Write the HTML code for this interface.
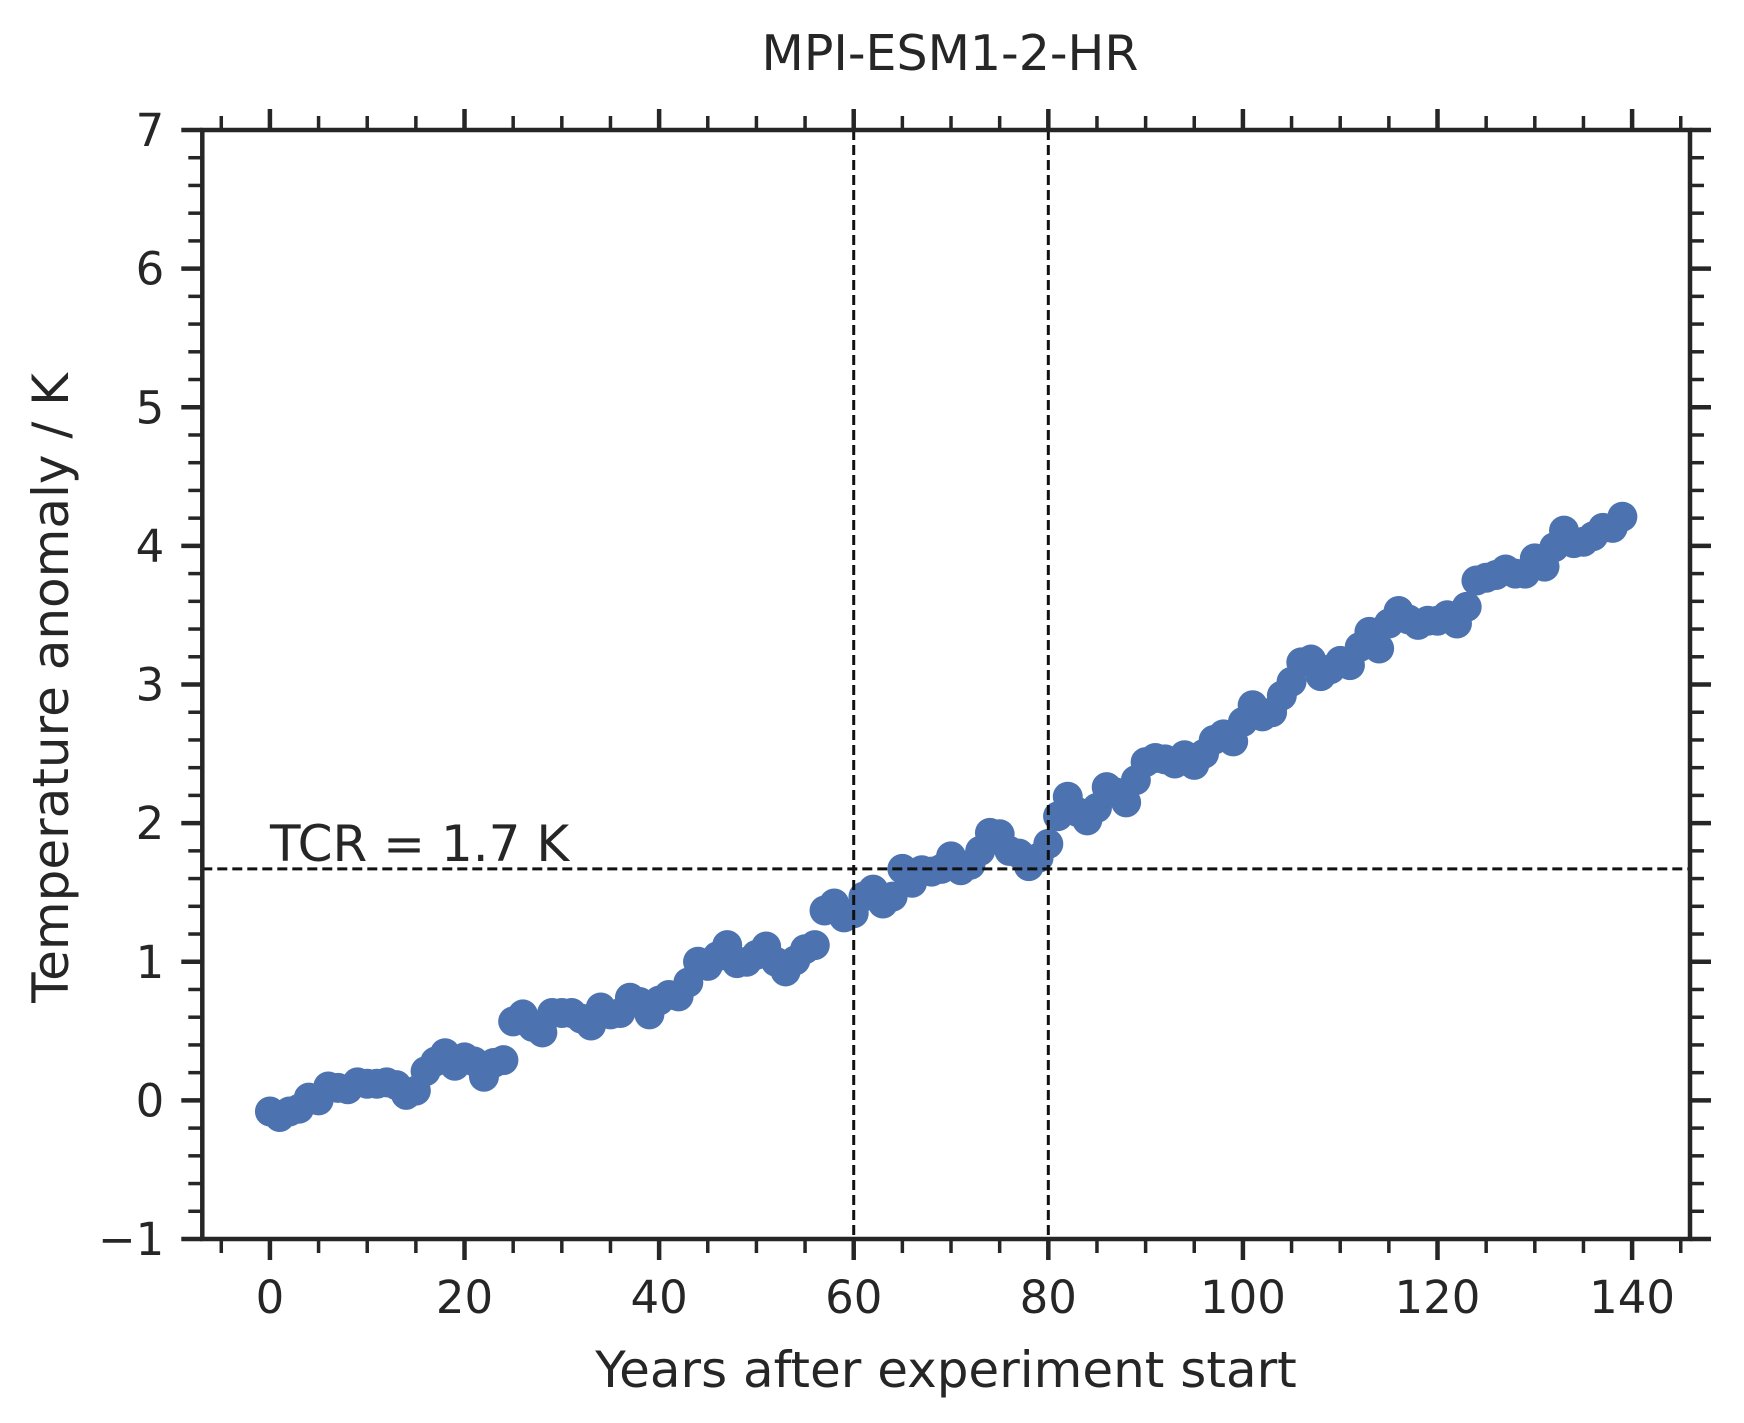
<!DOCTYPE html>
<html><head><meta charset="utf-8"><style>
html,body{margin:0;padding:0;background:#fff;}
svg text{font-family:"DejaVu Sans","Liberation Sans",sans-serif;fill:#262626;}
</style></head><body>
<svg id="chart" width="1744" height="1418" xmlns="http://www.w3.org/2000/svg">
<rect width="1744" height="1418" fill="#fff"/>
<g id="marks"></g>
<g id="axes"></g>
<text x="950" y="70" font-size="49" text-anchor="middle">MPI-ESM1-2-HR</text>
<text x="946" y="1387" font-size="50" text-anchor="middle">Years after experiment start</text>
<text x="0" y="0" font-size="50" text-anchor="middle" transform="translate(68,688) rotate(-90)">Temperature anomaly / K</text>
<text id="tcrlabel" x="270" y="861" font-size="50">TCR = 1.7 K</text>
</svg>
<script>
const years = Array.from({length:140},(_,i)=>i);
const anomaly = [-0.08,-0.12,-0.08,-0.06,0.02,0.0,0.1,0.09,0.08,0.13,0.12,0.12,0.13,0.11,0.04,0.07,0.21,0.28,0.34,0.25,
0.31,0.28,0.17,0.27,0.29,0.57,0.62,0.53,0.49,0.63,0.63,0.63,0.59,0.54,0.67,0.62,0.63,0.74,0.71,0.62,
0.72,0.76,0.75,0.85,1.0,0.97,1.04,1.12,0.99,1.0,1.05,1.11,1.0,0.93,1.01,1.09,1.12,1.37,1.42,1.32,
1.35,1.47,1.52,1.42,1.47,1.67,1.57,1.66,1.65,1.67,1.76,1.66,1.70,1.80,1.93,1.92,1.80,1.78,1.69,1.75,
1.85,2.05,2.19,2.08,2.02,2.11,2.26,2.22,2.15,2.31,2.44,2.47,2.46,2.43,2.49,2.42,2.50,2.60,2.64,2.59,
2.73,2.85,2.77,2.80,2.92,3.02,3.16,3.18,3.06,3.11,3.17,3.14,3.27,3.38,3.26,3.44,3.53,3.47,3.43,3.46,
3.46,3.50,3.44,3.56,3.75,3.77,3.79,3.83,3.80,3.80,3.91,3.85,3.99,4.11,4.02,4.03,4.07,4.13,4.13,4.21];
const xTicks = [0,20,40,60,80,100,120,140];
const yTicks = [-1,0,1,2,3,4,5,6,7];
const yTickLabels = ["\u22121","0","1","2","3","4","5","6","7"];
const tcrValue = [1.67];
const tcrYears = [60,80];

const L=202.3,R=1690,T=130,B=1239;
const X0=-6.95,X1=145.95,Y0=-1,Y1=7;
const sx=v=>L+(v-X0)/(X1-X0)*(R-L);
const sy=v=>B-(v-Y0)/(Y1-Y0)*(B-T);
const NS="http://www.w3.org/2000/svg";
const mk=(t,a)=>{const e=document.createElementNS(NS,t);for(const k in a)e.setAttribute(k,a[k]);return e;};
const marks=document.getElementById('marks'), axes=document.getElementById('axes');
years.forEach((yr,i)=>{
  const c=mk('circle',{cx:sx(yr),cy:sy(anomaly[i]),r:15,fill:'#4c72b0'});
  
  
  marks.appendChild(c);
});
const h=mk('line',{x1:L,x2:R,y1:sy(tcrValue[0]),y2:sy(tcrValue[0]),stroke:'#111','stroke-width':3,'stroke-dasharray':'10,5'});


axes.appendChild(h);
tcrYears.forEach(yv=>{
  const v=mk('line',{x1:sx(yv),x2:sx(yv),y1:T,y2:B,stroke:'#111','stroke-width':3,'stroke-dasharray':'10,5'});
  
  
  axes.appendChild(v);
});
const frame=mk('rect',{x:L,y:T,width:R-L,height:B-T,fill:'none',stroke:'#262626','stroke-width':4.5});


axes.appendChild(frame);
const tick=(x1,y1,x2,y2,w)=>{const t=mk('line',{x1,y1,x2,y2,stroke:'#262626','stroke-width':w});
  
  
  axes.appendChild(t);};
for(let v=-5;v<=145;v+=5){
  const major=xTicks.includes(v); const len=major?21:14; const x=sx(v);
  tick(x,B,x,B+len,major?4.5:3.5); tick(x,T,x,T-len,major?4.5:3.5);
}
for(let k=-5;k<=35;k++){
  const v=k/5; const major=(k%5===0); const len=major?21:14; const y=sy(v);
  tick(L,y,L-len,y,major?4.5:3.5); tick(R,y,R+len,y,major?4.5:3.5);
}
xTicks.forEach(v=>{const t=mk('text',{x:sx(v),y:B+74,'font-size':45,'text-anchor':'middle'});t.textContent=v;
  
  
  axes.appendChild(t);});
yTicks.forEach((v,i)=>{const t=mk('text',{x:L-38,y:sy(v)+16,'font-size':45,'text-anchor':'end'});t.textContent=yTickLabels[i];
  
  
  axes.appendChild(t);});
</script>
</body></html>
